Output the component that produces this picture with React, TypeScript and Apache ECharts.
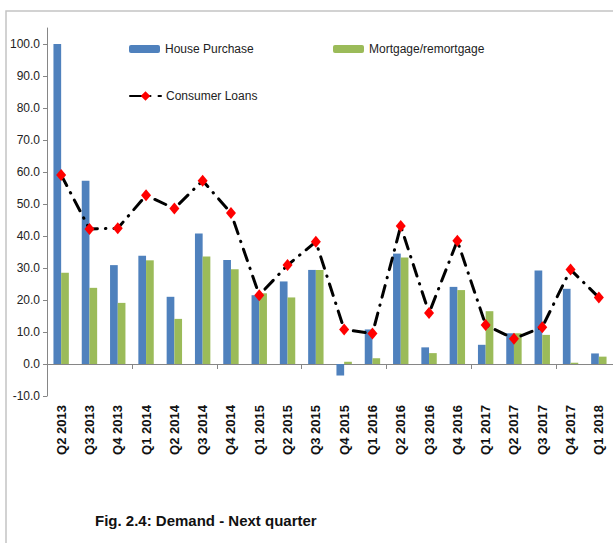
import React, { useEffect, useRef } from "react";
import * as echarts from "echarts";

const categories = [
  "Q2 2013", "Q3 2013", "Q4 2013", "Q1 2014", "Q2 2014", "Q3 2014", "Q4 2014",
  "Q1 2015", "Q2 2015", "Q3 2015", "Q4 2015", "Q1 2016", "Q2 2016", "Q3 2016",
  "Q4 2016", "Q1 2017", "Q2 2017", "Q3 2017", "Q4 2017", "Q1 2018",
];
const housePurchase = [
  100.0, 57.3, 30.9, 33.8, 21.0, 40.8, 32.5, 21.5, 25.8, 29.4,
  -3.6, 10.8, 34.5, 5.2, 24.1, 6.0, 9.6, 29.2, 23.5, 3.3,
];
const mortgage = [
  28.5, 23.8, 19.1, 32.4, 14.1, 33.6, 29.6, 22.1, 20.8, 29.4,
  0.7, 1.8, 33.3, 3.4, 23.1, 16.5, 9.6, 9.1, 0.4, 2.3,
];
const consumerLoans = [
  59.1, 42.2, 42.4, 52.7, 48.6, 57.3, 47.2, 21.5, 30.9, 38.2,
  10.8, 9.5, 43.1, 15.9, 38.5, 12.2, 7.9, 11.5, 29.5, 20.8,
];

const FONT = "Liberation Sans";

export default function App() {
  const ref = useRef<HTMLDivElement>(null);
  useEffect(() => {
    if (!ref.current) return;
    const chart = echarts.init(ref.current, undefined, { renderer: "svg" });
    const legendText = { fontFamily: FONT, fontSize: 12, color: "#222" };
    chart.setOption({
      animation: false,
      backgroundColor: "#fff",
      graphic: [
        {
          type: "rect",
          shape: { x: 6, y: 11, width: 700, height: 600 },
          style: { fill: "none", stroke: "#C4C4C4", lineWidth: 1.5 },
          silent: true,
        },
        {
          type: "text",
          left: 95,
          top: 513,
          style: {
            text: "Fig. 2.4: Demand - Next quarter",
            fontFamily: FONT,
            fontSize: 15,
            fontWeight: "bold",
            fill: "#111",
          },
        },
      ],
      legend: [
        {
          data: ["House Purchase"],
          left: 129,
          top: 43,
          padding: 0,
          itemWidth: 31,
          itemHeight: 8,
          textStyle: legendText,
        },
        {
          data: ["Mortgage/remortgage"],
          left: 333,
          top: 43,
          padding: 0,
          itemWidth: 31,
          itemHeight: 8,
          textStyle: legendText,
        },
        {
          data: ["Consumer Loans"],
          left: 129,
          top: 90,
          padding: 0,
          itemWidth: 31,
          itemHeight: 12,
          textStyle: legendText,
        },
      ],
      grid: { left: 47, top: 28, width: 570, height: 368, containLabel: false },
      xAxis: [
        {
          type: "category",
          data: categories,
          axisLine: { onZero: true, lineStyle: { color: "#868686", width: 1 } },
          axisTick: { show: true, length: 5, lineStyle: { color: "#868686" } },
          axisLabel: { show: false },
          splitLine: { show: false },
        },
        {
          type: "category",
          data: categories,
          position: "bottom",
          axisLine: { show: false, onZero: false },
          axisTick: { show: false },
          axisLabel: {
            rotate: 90,
            margin: 9,
            fontFamily: FONT,
            fontSize: 13,
            fontWeight: "bold",
            color: "#111",
          },
          splitLine: { show: false },
        },
      ],
      yAxis: {
        type: "value",
        min: -10,
        max: 105,
        interval: 10,
        axisLine: { show: true, lineStyle: { color: "#868686" } },
        axisTick: { show: true, length: 4, lineStyle: { color: "#868686" } },
        axisLabel: {
          showMaxLabel: false,
          margin: 7,
          fontFamily: FONT,
          fontSize: 12,
          color: "#222",
          formatter: (v: number) => v.toFixed(1),
        },
        splitLine: { show: false },
      },
      series: [
        {
          name: "House Purchase",
          type: "bar",
          data: housePurchase,
          barGap: "0%",
          barWidth: 7.7,
          itemStyle: { color: "#4F81BD" },
        },
        {
          name: "Mortgage/remortgage",
          type: "bar",
          data: mortgage,
          barWidth: 7.7,
          itemStyle: { color: "#9BBB59" },
        },
        {
          name: "Consumer Loans",
          type: "line",
          data: consumerLoans,
          z: 5,
          symbol: "diamond",
          symbolSize: [10, 12],
          itemStyle: { color: "#FF0000" },
          lineStyle: {
            color: "#000",
            width: 3,
            type: [12, 8, 0.5, 8],
            cap: "round",
          },
        },
      ],
    });
    return () => chart.dispose();
  }, []);
  return (
    <div
      ref={ref}
      style={{ position: "absolute", left: 0, top: 0, width: 613, height: 543 }}
    />
  );
}
